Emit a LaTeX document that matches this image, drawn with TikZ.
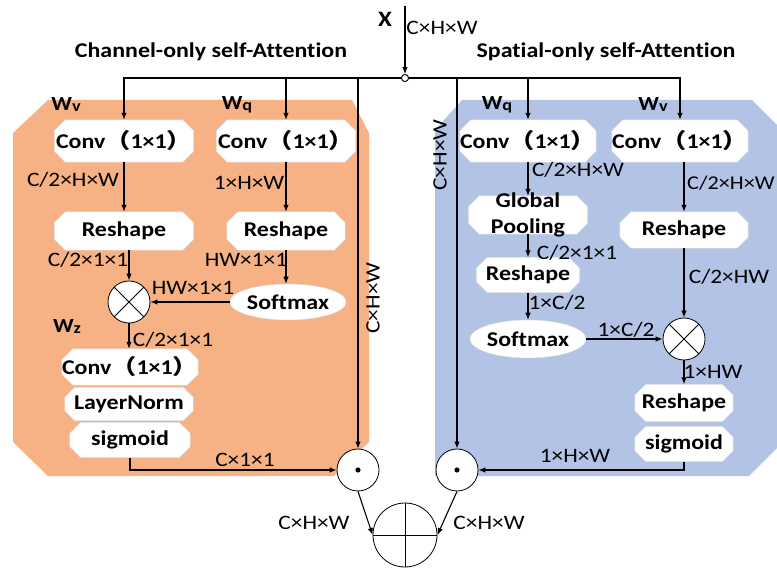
\documentclass[tikz,border=0pt]{standalone}
\usepackage{fontspec}
\setmainfont{Carlito}[FakeStretch=1.14,Ligatures=NoCommon]
\newfontfamily\cjk{Noto Sans CJK SC}[FakeStretch=1.2]
\usetikzlibrary{arrows.meta,calc,shapes.geometric}
\pgfdeclarelayer{bg}\pgfdeclarelayer{mid}\pgfsetlayers{bg,mid,main}
\definecolor{panelorange}{HTML}{F6B285}
\definecolor{panelblue}{HTML}{B2C3E6}
\newcommand\fs[1]{\fontsize{#1}{#1}\selectfont}
\newcommand\cv{Conv{\cjk （}1×1{\cjk ）}}
\newcommand\Wsub[1]{W\raisebox{-1pt}{\fs{16}#1}}
\newcommand\oct[2][11pt]{\begin{pgfonlayer}{mid}\path[octfill] ([xshift=#1]#2.north west) -- ([xshift=-#1]#2.north east) -- ([yshift=-#1]#2.north east) -- ([yshift=#1]#2.south east) -- ([xshift=-#1]#2.south east) -- ([xshift=#1]#2.south west) -- ([yshift=#1]#2.south west) -- ([yshift=-#1]#2.north west) -- cycle;\end{pgfonlayer}}
\begin{document}
\begin{tikzpicture}[x=1pt,y=-1pt,
  >={Latex[length=7pt,width=5.5pt]},
  arr/.style={->,line width=1.1pt},
  boxn/.style={rectangle,inner sep=0pt,font=\fs{21}\bfseries},
  ell/.style={ellipse,inner sep=0pt,fill=white,draw=black!12,line width=0.5pt,font=\fs{21}\bfseries},
  lab/.style={font=\fs{20.5},inner sep=0pt},
  wlab/.style={font=\fs{20}\bfseries,inner sep=0pt},
  title/.style={font=\fs{21}\bfseries,inner sep=0pt},
  octfill/.style={fill=white,draw=black!12,line width=0.5pt},
  opc/.style={circle,draw,fill=white,line width=0.8pt,minimum size=42pt,inner sep=0pt},
  otimesn/.style={opc,path picture={\draw[black,line width=0.8pt] (path picture bounding box.north west)--(path picture bounding box.south east) (path picture bounding box.north east)--(path picture bounding box.south west);}},
  odotn/.style={opc,path picture={\fill[black] (path picture bounding box.center) circle (2.6pt);}},
  oplusn/.style={opc,minimum size=64pt,path picture={\draw[black,line width=0.8pt] (path picture bounding box.north)--(path picture bounding box.south) (path picture bounding box.east)--(path picture bounding box.west);}},
]
\useasboundingbox (0,0) rectangle (777,569);
% panels
\begin{pgfonlayer}{bg}
\fill[white] (0,0) rectangle (777,569);
\fill[panelorange] (48,100) -- (352,100) -- (369,133) -- (369,442) -- (334,476) -- (48,476) -- (13,442) -- (13,133) -- cycle;
\fill[panelblue] (462,100) -- (752,100) -- (777,125) -- (777,448) -- (749,476) -- (435,476) -- (435,130) -- cycle;
\end{pgfonlayer}

% titles and input
\node[font=\fs{22}\bfseries,inner sep=0pt] (xlab) at (385,19) {X};
\node[lab] (xdim) at (442,28) {C×H×W};
\node[title] (ttl) at (211,52) {Channel-only self-Attention};
\node[title] (ttr) at (606,52) {Spatial-only self-Attention};

% left branch nodes
\node[boxn,minimum width=139pt,minimum height=42pt] (convv1) at (124,141) {\cv};
\node[boxn,minimum width=139pt,minimum height=42pt] (convq1) at (286,141) {\cv};
\node[boxn,minimum width=139pt,minimum height=38pt] (reshv1) at (124,231) {Reshape};
\node[boxn,minimum width=118pt,minimum height=38pt] (reshq1) at (286,231) {Reshape};
\node[ell,minimum width=110pt,minimum height=36pt] (softL) at (288,302) {Softmax};
\node[otimesn] (otL) at (129,302) {};
\node[boxn,minimum width=127pt,minimum height=36pt] (convz) at (130,367) {\cv};
\node[boxn,minimum width=128pt,minimum height=33pt] (lnorm) at (129,404) {LayerNorm};
\node[boxn,minimum width=120pt,minimum height=35pt] (sigL) at (130,440) {sigmoid};
\node[odotn] (odotL) at (358,470) {};

% right branch nodes
\node[boxn,minimum width=127pt,minimum height=42pt] (convq2) at (528,141) {\cv};
\node[boxn,minimum width=127pt,minimum height=42pt] (convv2) at (680,141) {\cv};
\node[boxn,minimum width=119pt,minimum height=38pt] (gp) at (528,215) {};
\node[font=\fs{21}\bfseries,inner sep=0pt,align=center] (gptext) at (528,215) {Global\\[5pt]Pooling};
\node[boxn,minimum width=103pt,minimum height=35pt] (reshq2) at (528,275) {Reshape};
\node[ell,minimum width=111pt,minimum height=38pt] (softR) at (528,339) {Softmax};
\node[otimesn] (otR) at (684,339) {};
\node[boxn,minimum width=128pt,minimum height=36pt] (reshv2) at (684,230) {Reshape};
\node[boxn,minimum width=98pt,minimum height=37pt] (resh3) at (684,403) {Reshape};
\node[boxn,minimum width=98pt,minimum height=35pt] (sigR) at (684,444) {sigmoid};
\node[odotn] (odotR) at (457,470) {};
\node[oplusn] (oplus) at (405,535) {};

\oct{convv1}\oct{convq1}\oct{reshv1}\oct{reshq1}\oct{convz}\oct[10pt]{lnorm}\oct{sigL}
\oct{convq2}\oct{convv2}\oct{gp}\oct{reshq2}\oct{reshv2}\oct{resh3}\oct{sigR}

% W labels
\node[wlab] (wv1) at (66,105) {\Wsub{v}};
\node[wlab] (wq1) at (237,105) {\Wsub{q}};
\node[wlab] (wz) at (67,327) {\Wsub{z}};
\node[wlab] (wq2) at (497,105) {\Wsub{q}};
\node[wlab] (wv2) at (653,105) {\Wsub{v}};

% split point
\coordinate (xin) at (405,6);
\node[circle,draw,fill=white,minimum size=7pt,inner sep=0pt,line width=0.8pt] (split) at (405,78) {};
\draw[arr] (split.west) -| (convv1.north);
\draw[arr] (split.west) -| (convq1.north);
\draw[arr] (split.west) -| (odotL.north);
\draw[arr] (split.east) -| (odotR.north);
\draw[arr] (split.east) -| (convq2.north);
\draw[arr] (split.east) -| (convv2.north);
\draw[arr] (xin) -- (split.north);
\node[circle,draw,fill=white,minimum size=7pt,inner sep=0pt,line width=0.8pt] (split2) at (405,78) {};

% left connectors
\draw[arr] (convv1.south) -- (reshv1.north);
\draw[arr] (convq1.south) -- (reshq1.north);
\draw[arr] (reshv1.south -| otL) -- (otL.north);
\draw[arr] (reshq1.south) -- (reshq1.south |- softL.north);
\draw[arr] (softL.west) -- (otL.east);
\draw[arr] (otL.south) -- (otL.south |- convz.north);
\draw[arr] (sigL.south) |- (odotL.west);

% right connectors
\draw[arr] (convq2.south) -- (gp.north);
\draw[arr] (gp.south) -- (reshq2.north);
\draw[arr] (reshq2.south) -- (softR.north);
\draw[arr] (softR.east) -- (otR.west);
\draw[arr] (convv2.south -| otR) -- (reshv2.north -| otR);
\draw[arr] (reshv2.south -| otR) -- (otR.north);
\draw[arr] (otR.south) -- (resh3.north -| otR);
\draw[arr] (sigR.south) |- (odotR.east);

% merge
\draw[arr] (odotL.south) -- (oplus.west);
\draw[arr] (odotR.south) -- (oplus.east);

% dimension labels
\node[lab] (l1) at (73,180) {C/2×H×W};
\node[lab] (l2) at (249,183) {1×H×W};
\node[lab] (l3) at (88,260) {C/2×1×1};
\node[lab] (l4) at (246,260) {HW×1×1};
\node[lab] (l5) at (193,288) {HW×1×1};
\node[lab] (l6) at (173,340) {C/2×1×1};
\node[lab,rotate=90] (l7) at (373,298) {C×H×W};
\node[lab] (l8) at (245,460) {C×1×1};
\node[lab] (l9) at (314,523) {C×H×W};
\node[lab] (l10) at (489,523) {C×H×W};
\node[lab,rotate=90] (r1) at (440,155) {C×H×W};
\node[lab] (r2) at (578,170) {C/2×H×W};
\node[lab,anchor=west,font=\fs{19.5}] (r3) at (687,183) {C/2×H×W};
\node[lab] (r4) at (577,253) {C/2×1×1};
\node[lab] (r5) at (557,303) {1×C/2};
\node[lab] (r6) at (626,330) {1×C/2};
\node[lab] (r7) at (729,277) {C/2×HW};
\node[lab] (r8) at (713,372) {1×HW};
\node[lab] (r9) at (575,456) {1×H×W};
\end{tikzpicture}
\end{document}
